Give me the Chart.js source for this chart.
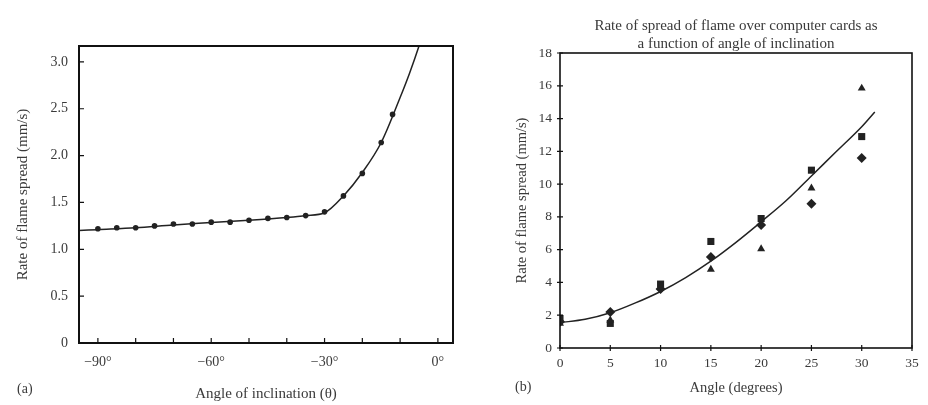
<!DOCTYPE html>
<html>
<head>
<meta charset="utf-8">
<script src="https://cdn.jsdelivr.net/npm/chart.js@4.4.1/dist/chart.umd.min.js"></script>
<style>
  html, body { margin: 0; padding: 0; background: #fff; }
  #wrap { position: relative; width: 928px; height: 405px; overflow: hidden; }
  #chart-a { position: absolute; left: 0; top: 0; }
  #chart-b { position: absolute; left: 460px; top: 0; }
</style>
</head>
<body>
<div id="wrap">
  <canvas id="chart-a" width="460" height="405"></canvas>
  <canvas id="chart-b" width="468" height="405"></canvas>
</div>
<script>
// (a) measured points and fitted curve
const angleA = [-90, -85, -80, -75, -70, -65, -60, -55, -50, -45, -40, -35, -30, -25, -20, -15, -12];
const rateA = [1.22, 1.23, 1.23, 1.25, 1.27, 1.27, 1.29, 1.29, 1.31, 1.33, 1.34, 1.36, 1.40, 1.57, 1.81, 2.14, 2.44];
const fitAngleA = [-95, -90, -80, -70, -60, -50, -40, -35, -30, -25, -20, -15, -10, -7.5, -5, -4];
const fitRateA = [1.20, 1.21, 1.23, 1.26, 1.285, 1.31, 1.34, 1.36, 1.39, 1.57, 1.82, 2.14, 2.62, 2.88, 3.17, 3.3];

// (b) three runs at each angle and fitted curve
const angleB = [0, 5, 10, 15, 20, 25, 30];
const squaresB = [1.8, 1.5, 3.9, 6.5, 7.9, 10.85, 12.9];
const trianglesB = [1.5, 1.7, 3.7, 4.8, 6.05, 9.75, 15.85];
const diamondsB = [1.6, 2.2, 3.6, 5.55, 7.5, 8.8, 11.6];
const fitAngleB = [0, 2.5, 5, 7.5, 10, 12.5, 15, 17.5, 20, 22.5, 25, 27.5, 30, 31.3];
const fitRateB = [1.55, 1.75, 2.15, 2.75, 3.45, 4.3, 5.3, 6.45, 7.7, 9.0, 10.5, 12.0, 13.5, 14.4];

const SERIF = '"Liberation Serif", "DejaVu Serif", serif';
const INK = '#222';
const TXT = '#3a3a3a';

const pts = (xs, ys) => xs.map((x, i) => ({ x, y: ys[i] }));

// box round the plot, inner tick marks, panel letter
const frame = {
  id: 'frame',
  afterDatasetsDraw(chart, args, o) {
    const { ctx, chartArea: a, scales } = chart;
    ctx.save();
    ctx.strokeStyle = '#111';
    ctx.lineWidth = o.width;
    ctx.strokeRect(a.left, a.top, a.right - a.left, a.bottom - a.top);
    ctx.lineWidth = 1.2;
    ctx.beginPath();
    scales.x.ticks.forEach(t => {
      const px = scales.x.getPixelForValue(t.value);
      ctx.moveTo(px, a.bottom + o.out);
      ctx.lineTo(px, a.bottom - o.in);
    });
    scales.y.ticks.forEach(t => {
      const py = scales.y.getPixelForValue(t.value);
      ctx.moveTo(a.left - o.out, py);
      ctx.lineTo(a.left + o.in, py);
    });
    ctx.stroke();
    ctx.fillStyle = TXT;
    ctx.font = '14px ' + SERIF;
    ctx.textBaseline = 'middle';
    ctx.fillText(o.tag, o.tagX, o.tagY);
    ctx.restore();
  }
};

const fixW = w => s => { s.width = w; };
const fixH = h => s => { s.height = h; };

new Chart(document.getElementById('chart-a'), {
  type: 'scatter',
  data: {
    datasets: [
      { data: pts(fitAngleA, fitRateA), showLine: true, borderColor: INK, borderWidth: 1.5, pointRadius: 0, cubicInterpolationMode: 'monotone' },
      { data: pts(angleA, rateA), pointStyle: 'circle', pointRadius: 2.8, backgroundColor: INK, borderColor: INK, borderWidth: 0 },
    ],
  },
  options: {
    responsive: false, animation: false,
    layout: { padding: { top: 46, right: 7, bottom: 0, left: 0 } },
    plugins: {
      legend: { display: false }, tooltip: { enabled: false },
      frame: { width: 2, in: 5, out: 0, tag: '(a)', tagX: 17, tagY: 389 },
    },
    scales: {
      x: {
        type: 'linear', min: -95, max: 4,
        afterFit: fixH(62),
        grid: { display: false, drawTicks: false }, border: { display: false },
        ticks: { stepSize: 10, includeBounds: false, padding: 11, color: TXT, font: { family: SERIF, size: 14 },
          callback: v => v % 30 === 0 ? (v < 0 ? '\u2212' + Math.abs(v) : v) + '\u00b0' : '' },
        title: { display: true, text: 'Angle of inclination (\u03b8)', color: TXT, font: { family: SERIF, size: 15 }, padding: { top: 0, bottom: 2 } },
      },
      y: {
        min: 0, max: 3.17,
        afterFit: fixW(79),
        grid: { display: false, drawTicks: false }, border: { display: false },
        ticks: { stepSize: 0.5, includeBounds: false, padding: 11, color: TXT, font: { family: SERIF, size: 14 },
          callback: v => v === 0 ? '0' : v.toFixed(1) },
        title: { display: true, text: 'Rate of flame spread (mm/s)', color: TXT, font: { family: SERIF, size: 15 }, padding: { top: 14, bottom: 0 } },
      },
    },
  },
  plugins: [frame],
});

new Chart(document.getElementById('chart-b'), {
  type: 'scatter',
  data: {
    datasets: [
      { data: pts(fitAngleB, fitRateB), showLine: true, borderColor: INK, borderWidth: 1.5, pointRadius: 0, cubicInterpolationMode: 'monotone' },
      { data: pts(angleB, squaresB), pointStyle: 'rect', pointRadius: 5, backgroundColor: INK, borderColor: INK, borderWidth: 0 },
      { data: pts(angleB, trianglesB), pointStyle: 'triangle', pointRadius: 4.6, backgroundColor: INK, borderColor: INK, borderWidth: 0 },
      { data: pts(angleB, diamondsB), pointStyle: 'rectRot', pointRadius: 5, backgroundColor: INK, borderColor: INK, borderWidth: 0 },
    ],
  },
  options: {
    responsive: false, animation: false,
    layout: { padding: { top: 0, right: 16, bottom: 0, left: 0 } },
    plugins: {
      legend: { display: false }, tooltip: { enabled: false },
      title: {
        display: true, fullSize: false,
        text: ['Rate of spread of flame over computer cards as', 'a function of angle of inclination'],
        color: TXT, font: { family: SERIF, size: 15, weight: 'normal', lineHeight: 1.2 },
        padding: { top: 17, bottom: 0 },
      },
      frame: { width: 1.6, in: 3, out: 3, tag: '(b)', tagX: 55, tagY: 387 },
    },
    scales: {
      x: {
        type: 'linear', min: 0, max: 35,
        afterFit: fixH(57),
        grid: { display: false, drawTicks: false }, border: { display: false },
        ticks: { stepSize: 5, padding: 7, color: TXT, font: { family: SERIF, size: 13.5 } },
        title: { display: true, text: 'Angle (degrees)', color: TXT, font: { family: SERIF, size: 14.5 }, padding: { top: 0, bottom: 8 } },
      },
      y: {
        min: 0, max: 18,
        afterFit: fixW(100),
        grid: { display: false, drawTicks: false }, border: { display: false },
        ticks: { stepSize: 2, padding: 8, color: TXT, font: { family: SERIF, size: 13.5 } },
        title: { display: true, text: 'Rate of flame spread (mm/s)', color: TXT, font: { family: SERIF, size: 14.5 }, padding: { top: 53, bottom: 0 } },
      },
    },
  },
  plugins: [frame],
});
</script>
</body>
</html>
